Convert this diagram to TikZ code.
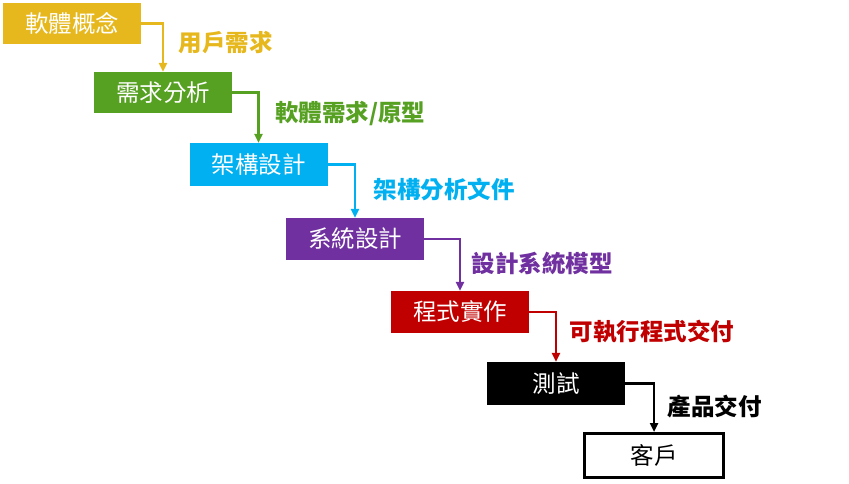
\documentclass[tikz,border=0pt]{standalone}
\usepackage{fontspec}
\newfontfamily\cjk{Noto Sans CJK TC}
\usetikzlibrary{arrows.meta,calc,positioning}
\definecolor{gold}{RGB}{230,184,30}
\definecolor{leaf}{RGB}{86,160,34}
\definecolor{sky}{RGB}{0,176,240}
\definecolor{plum}{RGB}{112,48,160}
\definecolor{crim}{RGB}{192,0,0}
\tikzset{>={Triangle[length=9pt,width=8pt]},every node/.style={font=\cjk\fontsize{23.5}{27}\selectfont},
box/.style={minimum width=138pt,minimum height=41pt,inner sep=0pt,text=white},
link/.style={line width=2.5pt,->},lbl/.style={anchor=west,font=\cjk\bfseries\fontsize{23.5}{27}\selectfont}}

\begin{document}
\begin{tikzpicture}[x=1pt,y=-1pt]
\useasboundingbox (0,0) rectangle (849,484);
\node[box,fill=gold] (concept) at (72,23.5) {軟體概念};
\node[box,fill=leaf] (req) at (163,92.5) {需求分析};
\node[box,fill=sky,minimum height=43pt] (arch) at (258.5,164.5) {架構設計};
\node[box,fill=plum,minimum height=42pt] (design) at (355,239) {系統設計};
\node[box,fill=crim,minimum height=42pt] (impl) at (460,312) {程式實作};
\node[box,fill=black,minimum height=43pt] (test) at (556,383.5) {測試};
\node[box,draw=black,line width=3pt,text=black,minimum width=139pt,minimum height=44pt] (client) at (654,455.5) {客戶};
% connectors
\draw[link,gold] (concept.east) -| (req.north) coordinate[pos=.5] (c1);
\node[lbl,text=gold] (l1) at ($(c1)+(12,19)$) {用戶需求};
\draw[link,leaf] (req.east) -| (arch.north) coordinate[pos=.5] (c2);
\node[lbl,text=leaf] (l2) at ($(c2)+(13,21)$) {軟體需求/原型};
\draw[link,sky] (arch.east) -| (design.north) coordinate[pos=.5] (c3);
\node[lbl,text=sky] (l3) at ($(c3)+(15,25)$) {架構分析文件};
\draw[link,plum] (design.east) -| (impl.north) coordinate[pos=.5] (c4);
\node[lbl,text=plum] (l4) at ($(c4)+(8,25)$) {設計系統模型};
\draw[link,crim] (impl.east) -| (test.north) coordinate[pos=.5] (c5);
\node[lbl,text=crim] (l5) at ($(c5)+(10,20)$) {可執行程式交付};
\draw[link,black] (test.east) -| (client.north) coordinate[pos=.5] (c6);
\node[lbl,text=black] (l6) at ($(c6)+(10,23)$) {產品交付};
\end{tikzpicture}
\end{document}
